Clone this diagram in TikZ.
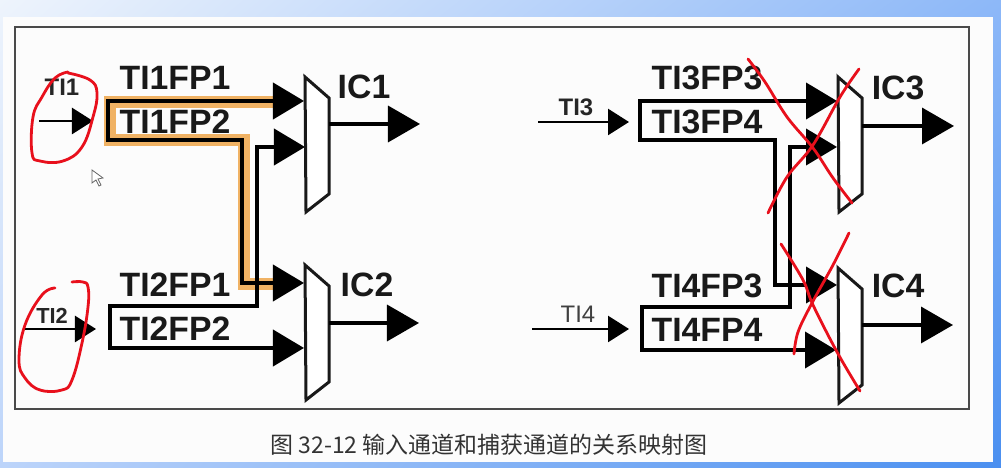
\documentclass[tikz,border=0pt]{standalone}
\usepackage{fontspec}
\setmainfont{Liberation Sans}
\newfontfamily\cjk{Noto Sans CJK SC}
\usetikzlibrary{arrows.meta, shadings}
\definecolor{halo}{HTML}{F0B264}
\definecolor{penred}{HTML}{E8101C}
\definecolor{framegray}{HTML}{4A4A4A}
\definecolor{bgul}{HTML}{EEF4FC}
\definecolor{bgur}{HTML}{8DB8F8}
\definecolor{bgll}{HTML}{BCD4FA}
\definecolor{bglr}{HTML}{4A8FF0}
\begin{document}
\begin{tikzpicture}[x=0.01cm, y=-0.01cm, line cap=butt, line join=miter, >=stealth]
	\tikzset{
		wire/.style={line width=0.04cm, black},
		bigtip/.style={{Triangle[length=0.31cm,width=0.36cm]}-{Triangle[length=0.31cm,width=0.36cm]}},
		outarrow/.style={line width=0.035cm, -{Triangle[length=0.32cm,width=0.36cm]}},
		inarrow/.style={line width=0.025cm, -{Triangle[length=0.21cm,width=0.26cm]}},
		fpname/.style={inner sep=0pt, font=\fontsize{9.6}{11}\selectfont\bfseries, text=black!90},
		tiname/.style={inner sep=0pt, font=\fontsize{6.8}{8}\selectfont\bfseries, text=black!85},
		redpen/.style={line width=0.028cm, penred, line cap=round, line join=round},
		muxbox/.pic={
			\draw[line width=0.03cm, fill=white, draw=black!90] (0,0) -- (24,21) -- (24,117) -- (1,135) -- cycle;
		}
	}
	\useasboundingbox (0,0) rectangle (1001,468);

	% BACKGROUND AND FRAME
	\shade[upper left=bgul, upper right=bgur, lower left=bgll, lower right=bglr] (0,0) rectangle (1001,468);
	\fill[white!99!black] (3,17) rectangle (993,462);
	\draw[framegray, line width=0.018cm] (15,27) rectangle (969,409);

	% INPUT PINS OF THE SELECTORS
	\foreach \n/\x/\y in {
		M1a/304/101, M1b/305/147, M2a/304/283, M2b/304/348,
		M3a/837/101, M3b/837/147, M4a/837/285, M4b/836/350%
	} {
		\coordinate (\n) at (\x,\y);
	}

	% CORNERS OF THE WIRES
	\foreach \n/\x/\y in {
		H1/275/102, H2/275/284, H3/110/102, H4/110/140, H5/244/140, H6/244/284,
		A1/108/101, A2/108/140, A3/242/140, A4/242/283,
		B1/257/147, B2/257/306, B3/110/306, B4/110/348,
		C1/640/101, C2/640/140, C3/775/140, C4/775/285,
		D1/790/147, D2/790/307, D3/642/307, D4/642/350%
	} {
		\coordinate (\n) at (\x,\y);
	}

	% WIRES
	\draw[halo, line width=0.12cm] (H1) -- (H3) -- (H4) -- (H5) -- (H6) -- (H2);
	\draw[wire, bigtip] (M1a) -- (A1) -- (A2) -- (A3) -- (A4) -- (M2a);
	\draw[wire, bigtip] (M1b) -- (B1) -- (B2) -- (B3) -- (B4) -- (M2b);
	\draw[wire, bigtip] (M3a) -- (C1) -- (C2) -- (C3) -- (C4) -- (M4a);
	\draw[wire, bigtip] (M3b) -- (D1) -- (D2) -- (D3) -- (D4) -- (M4b);

	% SELECTORS
	\path (305,77) pic {muxbox};
	\path (305,265) pic {muxbox};
	\path (838,77) pic {muxbox};
	\path (838,268) pic {muxbox};

	% LABELS
	\foreach \n/\t/\x/\y in {
		l11/TI1FP1/175/78, l12/TI1FP2/175/122, l21/TI2FP1/175/285, l22/TI2FP2/175/329,
		l33/TI3FP3/707/78, l34/TI3FP4/707/122, l43/TI4FP3/707/286, l44/TI4FP4/707/330,
		o1/IC1/364/87, o2/IC2/367/285, o3/IC3/898/88, o4/IC4/898/286%
	} {
		\node[fpname] (\n) at (\x,\y) {\t};
	}
	\node[tiname] (t1) at (62,87) {TI1};
	\node[tiname, font=\fontsize{6.2}{8}\selectfont\bfseries] (t2) at (52,316) {TI2};
	\node[tiname] (t3) at (576,107) {TI3};
	\node[tiname, font=\fontsize{6.8}{8}\selectfont, text=black!75] (t4) at (578,314) {TI4};

	% INPUT AND OUTPUT ARROWS
	\foreach \n/\xa/\xb/\y in {i1/39/93/121, i2/25/96/329, i3/538/629/122, i4/532/629/329} {
		\coordinate (\n s) at (\xa,\y);
		\coordinate (\n e) at (\xb,\y);
		\draw[inarrow] (\n s) -- (\n e);
	}
	\foreach \n/\xa/\xb/\y in {q1/329/420/124, q2/329/419/323, q3/862/954/126, q4/862/953/325} {
		\coordinate (\n s) at (\xa,\y);
		\coordinate (\n e) at (\xb,\y);
		\draw[outarrow] (\n s) -- (\n e);
	}

	% CAPTION
	\node[inner sep=0pt, text=black!80, font=\fontsize{6.53}{8}\selectfont\cjk] (cap) at (489,445) {图 32-12 输入通道和捕获通道的关系映射图};

	% MOUSE POINTER
	\draw[black!60, fill=white, line width=0.008cm] (92,170) -- (92,183) -- (96,180) -- (99,186) -- (101,185) -- (98,179) -- (103,178) -- cycle;

	% RED MARKS
	\draw[redpen] plot[smooth, tension=0.7] coordinates {(68,72) (55,78) (42,97) (33,117) (32,153) (40,161) (63,161) (82,147) (93,117) (97,93) (90,80) (68,73)};
	\draw[redpen] plot[smooth, tension=0.7] coordinates {(55,288) (42,295) (25,325) (19,360) (25,378) (40,390) (62,390) (72,380) (82,343) (88,307) (88,287) (83,282) (72,282)};
	\draw[redpen] plot[smooth, tension=0.6] coordinates {(748,59) (765,82) (787,117) (813,148) (833,178) (852,203)};
	\draw[redpen] plot[smooth, tension=0.6] coordinates {(859,69) (840,97) (813,145) (787,177) (768,213)};
	\draw[redpen] plot[smooth, tension=0.6] coordinates {(781,244) (803,280) (813,305) (837,352) (860,391)};
	\draw[redpen] plot[smooth, tension=0.6] coordinates {(849,233) (833,265) (812,303) (798,332) (794,354)};
\end{tikzpicture}
\end{document}
